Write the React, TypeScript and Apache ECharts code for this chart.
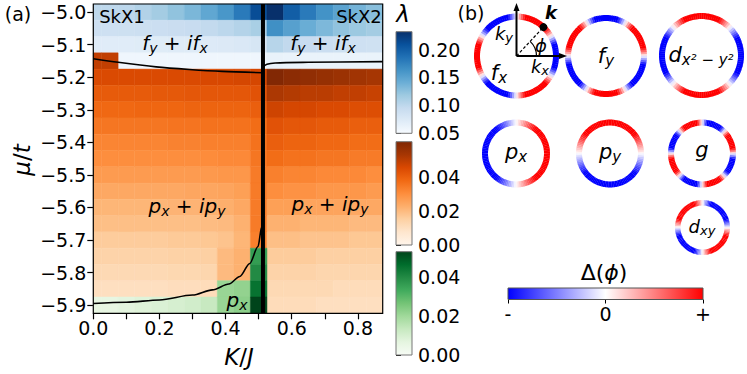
import React, { useEffect, useRef } from "react";
import * as echarts from "echarts";

const FONT = "DejaVu Sans";

// ---------------- data ----------------
const kValues = [0, 0.05, 0.1, 0.15, 0.2, 0.25, 0.3, 0.35, 0.4, 0.45, 0.5, 0.55, 0.6, 0.65, 0.7, 0.75, 0.8, 0.85];
const N = null;

const muBlue = [-5.0, -5.05, -5.1, -5.15];
const lambdaBlue: (number | null)[][] = [
  [0.100, 0.100, 0.101, 0.107, 0.115, 0.124, 0.134, 0.147, 0.160, 0.180, 0.212, 0.232, 0.200, 0.180, 0.163, 0.150, 0.137, 0.128],
  [0.088, 0.088, 0.089, 0.090, 0.091, 0.092, 0.094, 0.097, 0.101, 0.106, 0.112, 0.165, 0.152, 0.142, 0.133, 0.124, 0.119, 0.115],
  [0.071, 0.071, 0.071, 0.072, 0.072, 0.073, 0.073, 0.074, 0.075, 0.077, 0.080, 0.104, 0.098, 0.094, 0.091, 0.089, 0.088, 0.087],
  [N, N, 0.057, 0.057, 0.057, 0.057, 0.057, 0.057, 0.057, 0.057, 0.057, 0.063, 0.062, 0.062, 0.062, 0.062, 0.062, 0.062],
];

const muOrange = [-5.15, -5.2, -5.25, -5.3, -5.35, -5.4, -5.45, -5.5, -5.55, -5.6, -5.65, -5.7, -5.75, -5.8, -5.85, -5.9];
const lambdaOrange: (number | null)[][] = [
  [0.049, 0.049, N, N, N, N, N, N, N, N, N, N, N, N, N, N, N, N],
  [0.045, 0.045, 0.045, 0.045, 0.045, 0.045, 0.045, 0.0455, 0.0455, 0.046, 0.046, 0.060, 0.058, 0.057, 0.056, 0.055, 0.054, 0.053],
  [0.041, 0.041, 0.041, 0.041, 0.0415, 0.0415, 0.042, 0.042, 0.042, 0.042, 0.043, 0.052, 0.051, 0.050, 0.050, 0.049, 0.049, 0.048],
  [0.038, 0.038, 0.038, 0.0385, 0.0385, 0.0385, 0.039, 0.039, 0.039, 0.039, 0.040, 0.047, 0.046, 0.046, 0.045, 0.045, 0.044, 0.044],
  [0.035, 0.035, 0.035, 0.035, 0.035, 0.0355, 0.0355, 0.036, 0.036, 0.036, 0.037, 0.043, 0.042, 0.042, 0.041, 0.041, 0.040, 0.040],
  [0.032, 0.032, 0.032, 0.032, 0.032, 0.0325, 0.0325, 0.033, 0.033, 0.033, 0.036, 0.040, 0.039, 0.039, 0.038, 0.038, 0.037, 0.037],
  [0.030, 0.030, 0.030, 0.030, 0.030, 0.030, 0.030, 0.0305, 0.031, 0.031, 0.035, 0.037, 0.036, 0.036, 0.035, 0.035, 0.034, 0.034],
  [0.027, 0.027, 0.027, 0.027, 0.027, 0.027, 0.027, 0.0275, 0.028, 0.028, 0.034, 0.033, 0.032, 0.032, 0.031, 0.031, 0.031, 0.030],
  [0.024, 0.024, 0.024, 0.024, 0.024, 0.024, 0.0245, 0.0245, 0.025, 0.026, 0.034, 0.030, 0.029, 0.029, 0.028, 0.028, 0.028, 0.027],
  [0.021, 0.021, 0.021, 0.021, 0.021, 0.0215, 0.0215, 0.022, 0.0225, 0.024, 0.034, 0.026, 0.026, 0.025, 0.025, 0.025, 0.024, 0.024],
  [0.019, 0.019, 0.019, 0.019, 0.019, 0.019, 0.019, 0.0195, 0.020, 0.022, 0.034, 0.022, 0.022, 0.021, 0.021, 0.021, 0.020, 0.020],
  [0.016, 0.016, 0.016, 0.016, 0.016, 0.0165, 0.0165, 0.017, 0.018, 0.021, 0.033, 0.019, 0.019, 0.018, 0.018, 0.018, 0.017, 0.017],
  [0.014, 0.014, 0.014, 0.014, 0.014, 0.0145, 0.0145, 0.015, 0.020, 0.022, N, 0.016, 0.016, 0.016, 0.015, 0.015, 0.015, 0.015],
  [0.012, 0.012, 0.012, 0.012, 0.012, 0.0125, 0.0125, 0.013, 0.020, 0.022, N, 0.014, 0.014, 0.014, 0.013, 0.013, 0.013, 0.013],
  [0.010, 0.010, 0.010, 0.010, 0.010, 0.0105, 0.0105, 0.011, N, N, N, 0.012, 0.012, 0.012, 0.012, 0.011, 0.011, 0.011],
  [N, N, N, N, N, N, N, N, N, N, N, 0.011, 0.011, 0.011, 0.010, 0.010, 0.010, 0.010],
];

const muGreen = [-5.75, -5.8, -5.85, -5.9];
const lambdaGreen: (number | null)[][] = [
  [N, N, N, N, N, N, N, N, N, N, 0.036, N, N, N, N, N, N, N],
  [N, N, N, N, N, N, N, N, N, N, 0.040, N, N, N, N, N, N, N],
  [N, N, N, N, N, N, N, N, 0.021, 0.022, 0.045, N, N, N, N, N, N, N],
  [0.006, 0.006, 0.007, 0.008, 0.009, 0.010, 0.011, 0.013, 0.021, 0.023, 0.053, N, N, N, N, N, N, N],
];

// phase boundaries
const boundaryTopLeftK = [0, 0.075, 0.19, 0.29, 0.39, 0.513];
const boundaryTopLeftMu = [-5.143, -5.154, -5.168, -5.176, -5.182, -5.186];
const boundaryTopRightK = [0.513, 0.525, 0.55, 0.65, 0.875];
const boundaryTopRightMu = [-5.168, -5.16, -5.156, -5.154, -5.152];
const boundaryBottomK = [0, 0.1, 0.2, 0.3, 0.36, 0.41, 0.443, 0.473, 0.498, 0.509, 0.513];
const boundaryBottomMu = [-5.895, -5.891, -5.884, -5.869, -5.853, -5.835, -5.812, -5.772, -5.72, -5.66, -5.6];
const skxTransitionK = 0.513;

// axes
const kTicks = [0, 0.1, 0.2, 0.3, 0.4, 0.5, 0.6, 0.7, 0.8];
const kLabels = [0, 0.2, 0.4, 0.6, 0.8];
const muTicks = [-5.9, -5.8, -5.7, -5.6, -5.5, -5.4, -5.3, -5.2, -5.1, -5.0];
const blueTicks = [0.05, 0.1, 0.15, 0.2];
const orangeTicks = [0, 0.01, 0.02, 0.03, 0.04, 0.05, 0.06];
const orangeLabels = [0, 0.02, 0.04];
const greenTicks = [0, 0.01, 0.02, 0.03, 0.04, 0.05];
const greenLabels = [0, 0.02, 0.04];

// order-parameter rings: Delta(phi) ~ cos(n*phi - phase)
const ringNames = ["f_x", "f_y", "d_{x2-y2}", "p_x", "p_y", "g", "d_xy"];
const ringHarmonic = [3, 3, 2, 1, 1, 4, 2];
const ringPhase = [Math.PI, Math.PI / 2, Math.PI, 0, Math.PI / 2, Math.PI / 2, -Math.PI / 2];

// ---------------- styles ----------------
const BLUES = ["#f7fbff", "#deebf7", "#c6dbef", "#9ecae1", "#6baed6", "#4292c6", "#2171b5", "#08519c", "#08306b"];
const ORANGES = ["#fff5eb", "#fee6ce", "#fdd0a2", "#fdae6b", "#fd8d3c", "#f16913", "#d94801", "#a63603", "#7f2704"];
const GREENS = ["#f7fcf5", "#e5f5e0", "#c7e9c0", "#a1d99b", "#74c476", "#41ab5d", "#238b45", "#006d2c", "#00441b"];

const ringLayout = [
  { cx: 516.5, cy: 56, R: 42.5, w: 6 },
  { cx: 606, cy: 56, R: 41, w: 6 },
  { cx: 701.5, cy: 55.5, R: 42.5, w: 6 },
  { cx: 516, cy: 153.5, R: 34, w: 6 },
  { cx: 610, cy: 153.5, R: 34, w: 6 },
  { cx: 702, cy: 153.5, R: 34, w: 6 },
  { cx: 702.5, cy: 227.5, R: 27.5, w: 5.5 },
];

function toCells(mus: number[], rows: (number | null)[][]) {
  const out: number[][] = [];
  rows.forEach((row, i) =>
    row.forEach((v, j) => {
      if (v !== null) out.push([kValues[j], mus[i], v]);
    })
  );
  return out;
}

function zip(a: number[], b: number[]) {
  return a.map((v, i) => [v, b[i]]);
}

function vGrad(colors: string[]) {
  return new echarts.graphic.LinearGradient(
    0, 1, 0, 0,
    colors.map((c, i) => ({ offset: i / (colors.length - 1), color: c }))
  );
}

function bwr(t: number) {
  const v = Math.max(-1, Math.min(1, t));
  if (v < 0) {
    const c = Math.round(255 * (1 + v));
    return `rgb(${c},${c},255)`;
  }
  const c = Math.round(255 * (1 - v));
  return `rgb(255,${c},${c})`;
}

const renderCell = (params: any, api: any) => {
  const x = api.value(0);
  const y = api.value(1);
  const p1 = api.coord([x - 0.025, y + 0.025]);
  const p2 = api.coord([x + 0.025, y - 0.025]);
  const cs = params.coordSys;
  const rect = echarts.graphic.clipRectByRect(
    { x: p1[0], y: p1[1], width: p2[0] - p1[0], height: p2[1] - p1[1] },
    { x: cs.x, y: cs.y, width: cs.width, height: cs.height }
  );
  if (!rect) return;
  const c = api.visual("color");
  return { type: "rect", shape: rect, style: { fill: c, stroke: c, lineWidth: 0.5 } };
};

function mathRich(size: number) {
  return {
    i: { fontFamily: FONT, fontStyle: "italic", fontSize: size, lineHeight: size + 4, fill: "#000" },
    n: { fontFamily: FONT, fontSize: size, lineHeight: size + 4, fill: "#000" },
    b: { fontFamily: FONT, fontStyle: "italic", fontWeight: "bold", fontSize: size, lineHeight: size + 4, fill: "#000" },
    s: { fontFamily: FONT, fontStyle: "italic", fontSize: Math.round(size * 0.7), lineHeight: Math.round(size * 0.5), verticalAlign: "bottom", fill: "#000" },
    sn: { fontFamily: FONT, fontSize: Math.round(size * 0.7), lineHeight: Math.round(size * 0.5), verticalAlign: "bottom", fill: "#000" },
  };
}

function mtext(x: number, y: number, text: string, size: number, extra: any = {}) {
  return {
    type: "text",
    x,
    y,
    z: 100,
    ...extra,
    style: { text, rich: mathRich(size), align: "center", verticalAlign: "middle", fill: "#000" },
  };
}

function ptext(x: number, y: number, text: string, size: number, extra: any = {}) {
  return {
    type: "text",
    x,
    y,
    z: 100,
    ...extra,
    style: { text, fontFamily: FONT, fontSize: size, align: "center", verticalAlign: "middle", fill: "#000", ...(extra.style || {}) },
  };
}

function ringElements() {
  const els: any[] = [];
  const SEG = 120;
  ringLayout.forEach((L, r) => {
    for (let s = 0; s < SEG; s++) {
      const a0 = (2 * Math.PI * s) / SEG;
      const a1 = (2 * Math.PI * (s + 1)) / SEG;
      const mid = (a0 + a1) / 2;
      const f = Math.cos(ringHarmonic[r] * mid - ringPhase[r]);
      els.push({
        type: "sector",
        silent: true,
        shape: {
          cx: L.cx,
          cy: L.cy,
          r0: L.R - L.w,
          r: L.R,
          startAngle: -a1 - 0.004,
          endAngle: -a0 + 0.004,
          clockwise: true,
        },
        style: { fill: bwr(1.6 * f) },
      });
    }
  });
  return els;
}

export default function App() {
  const ref = useRef<HTMLDivElement>(null);
  useEffect(() => {
    document.body.style.margin = "0";
    if (!ref.current) return;
    const chart = echarts.init(ref.current, null, { renderer: "svg" });

    const axisLabelStyle = { fontFamily: FONT, fontSize: 19, color: "#000" };
    const cbY = (gi: number, min: number, max: number, ticks: number[], labels: number[]) => ({
      gridIndex: gi,
      type: "value",
      position: "right",
      min,
      max,
      axisLine: { show: false },
      splitLine: { show: false },
      axisTick: { show: true, customValues: ticks, length: 5, lineStyle: { color: "#000", width: 1 } },
      axisLabel: { ...axisLabelStyle, customValues: labels, margin: 6, formatter: (v: number) => v.toFixed(2) },
    });
    const hiddenX = (gi: number) => ({ gridIndex: gi, type: "value", show: false, min: 0, max: 1 });

    const o1 = ringLayout[0];
    const phiK = (47 * Math.PI) / 180;
    const dotX = o1.cx + (o1.R - o1.w / 2) * Math.cos(phiK);
    const dotY = o1.cy - (o1.R - o1.w / 2) * Math.sin(phiK);

    const option: any = {
      animation: false,
      backgroundColor: "#ffffff",
      grid: [
        { left: 93.3, top: 4, width: 289.4, height: 309.3, show: true, z: 5, backgroundColor: "transparent", borderColor: "#000", borderWidth: 1.2 },
        { left: 396, top: 31.7, width: 16, height: 101.6, show: true, z: 5, backgroundColor: vGrad(BLUES), borderColor: "#777", borderWidth: 1 },
        { left: 396, top: 141.7, width: 16, height: 103.3, show: true, z: 5, backgroundColor: vGrad(ORANGES), borderColor: "#777", borderWidth: 1 },
        { left: 396, top: 251.7, width: 16, height: 103.3, show: true, z: 5, backgroundColor: vGrad(GREENS), borderColor: "#777", borderWidth: 1 },
        {
          left: 508, top: 288, width: 195, height: 11.5, show: true, z: 5,
          backgroundColor: new echarts.graphic.LinearGradient(0, 0, 1, 0, [
            { offset: 0, color: "#0000ff" },
            { offset: 0.5, color: "#ffffff" },
            { offset: 1, color: "#ff0000" },
          ]),
          borderColor: "#555", borderWidth: 1,
        },
      ],
      xAxis: [
        {
          gridIndex: 0, type: "value", min: 0, max: 0.875,
          axisLine: { show: false }, splitLine: { show: false },
          axisTick: { show: true, customValues: kTicks, length: 6, lineStyle: { color: "#000", width: 1.2 } },
          axisLabel: { ...axisLabelStyle, customValues: kLabels, margin: 5, formatter: (v: number) => v.toFixed(1) },
        },
        hiddenX(1),
        hiddenX(2),
        hiddenX(3),
        {
          gridIndex: 4, type: "value", min: -1, max: 1,
          axisLine: { show: false }, splitLine: { show: false },
          axisTick: { show: true, customValues: [-1, 0, 1], length: 4, lineStyle: { color: "#000", width: 1 } },
          axisLabel: { ...axisLabelStyle, customValues: [-1, 0, 1], margin: 5, formatter: (v: number) => (v < 0 ? "-" : v > 0 ? "+" : "0") },
        },
      ],
      yAxis: [
        {
          gridIndex: 0, type: "value", min: -5.925, max: -4.975,
          axisLine: { show: false }, splitLine: { show: false },
          axisTick: { show: true, customValues: muTicks, length: 6, lineStyle: { color: "#000", width: 1.2 } },
          axisLabel: { ...axisLabelStyle, customValues: muTicks, margin: 7, formatter: (v: number) => (v < 0 ? "\u2212" : "") + Math.abs(v).toFixed(1) },
        },
        cbY(1, 0.05, 0.232, blueTicks, blueTicks),
        cbY(2, 0, 0.0605, orangeTicks, orangeLabels),
        cbY(3, 0, 0.053, greenTicks, greenLabels),
        { gridIndex: 4, type: "value", show: false, min: 0, max: 1 },
      ],
      visualMap: [
        { type: "continuous", show: false, seriesIndex: 0, dimension: 2, min: 0.05, max: 0.232, inRange: { color: BLUES } },
        { type: "continuous", show: false, seriesIndex: 1, dimension: 2, min: 0, max: 0.0605, inRange: { color: ORANGES } },
        { type: "continuous", show: false, seriesIndex: 2, dimension: 2, min: 0, max: 0.053, inRange: { color: GREENS } },
      ],
      series: [
        { type: "custom", name: "SkX blue", xAxisIndex: 0, yAxisIndex: 0, renderItem: renderCell, data: toCells(muBlue, lambdaBlue), encode: { x: 0, y: 1 }, z: 1, silent: true },
        { type: "custom", name: "orange", xAxisIndex: 0, yAxisIndex: 0, renderItem: renderCell, data: toCells(muOrange, lambdaOrange), encode: { x: 0, y: 1 }, z: 1, silent: true },
        { type: "custom", name: "green", xAxisIndex: 0, yAxisIndex: 0, renderItem: renderCell, data: toCells(muGreen, lambdaGreen), encode: { x: 0, y: 1 }, z: 1, silent: true },
        { type: "line", xAxisIndex: 0, yAxisIndex: 0, data: zip(boundaryTopLeftK, boundaryTopLeftMu), smooth: 0.3, symbol: "none", lineStyle: { color: "#000", width: 1.6 }, z: 3, silent: true },
        { type: "line", xAxisIndex: 0, yAxisIndex: 0, data: zip(boundaryTopRightK, boundaryTopRightMu), smooth: 0.3, symbol: "none", lineStyle: { color: "#000", width: 1.6 }, z: 3, silent: true },
        { type: "line", xAxisIndex: 0, yAxisIndex: 0, data: zip(boundaryBottomK, boundaryBottomMu), smooth: 0.3, smoothMonotone: "x", symbol: "none", lineStyle: { color: "#000", width: 1.6 }, z: 3, silent: true },
        { type: "line", xAxisIndex: 0, yAxisIndex: 0, data: [[skxTransitionK, -4.975], [skxTransitionK, -5.925]], symbol: "none", lineStyle: { color: "#000", width: 4 }, z: 4, silent: true },
      ],
      graphic: {
        elements: [
          ptext(18, 14, "(a)", 19),
          ptext(471, 13, "(b)", 19),
          ptext(122, 16, "SkX1", 18),
          ptext(359, 16, "SkX2", 18),
          mtext(403, 14, "{i|λ}", 23),
          mtext(175, 43, "{i|f}{s|y}{n| + }{i|if}{s|x}", 20),
          mtext(323, 43, "{i|f}{s|y}{n| + }{i|if}{s|x}", 20),
          mtext(187, 206, "{i|p}{s|x}{n| + }{i|ip}{s|y}", 20),
          mtext(330, 204, "{i|p}{s|x}{n| + }{i|ip}{s|y}", 20),
          mtext(237, 300, "{i|p}{s|x}", 20),
          mtext(22, 160, "{i|μ}{n|/}{i|t}", 23, { rotation: Math.PI / 2 }),
          mtext(239, 357, "{i|K}{n|/}{i|J}", 23),
          ...ringElements(),
          // axes inside ring 1
          { type: "line", z: 50, shape: { x1: o1.cx, y1: o1.cy, x2: o1.cx, y2: 10 }, style: { stroke: "#000", lineWidth: 2 } },
          { type: "polygon", z: 50, shape: { points: [[o1.cx, 3], [o1.cx - 3, 11], [o1.cx + 3, 11]] }, style: { fill: "#000" } },
          { type: "line", z: 50, shape: { x1: o1.cx, y1: o1.cy, x2: 560, y2: o1.cy }, style: { stroke: "#000", lineWidth: 2 } },
          { type: "polygon", z: 50, shape: { points: [[567, o1.cy], [559, o1.cy - 3], [559, o1.cy + 3]] }, style: { fill: "#000" } },
          { type: "line", z: 50, shape: { x1: o1.cx, y1: o1.cy, x2: dotX, y2: dotY }, style: { stroke: "#000", lineWidth: 1.2, lineDash: [3, 2] } },
          { type: "circle", z: 51, shape: { cx: dotX, cy: dotY, r: 4 }, style: { fill: "#000" } },
          { type: "arc", z: 50, shape: { cx: o1.cx, cy: o1.cy, r: 20, startAngle: -phiK, endAngle: 0, clockwise: true }, style: { stroke: "#000", lineWidth: 1.2, fill: "none" } },
          mtext(551, 12, "{b|k}", 18),
          mtext(541, 45, "{i|ϕ}", 18),
          mtext(504, 33, "{i|k}{s|y}", 18),
          mtext(540, 66, "{i|k}{s|x}", 18),
          mtext(499, 73, "{i|f}{s|x}", 21),
          mtext(606, 56, "{i|f}{s|y}", 21),
          mtext(701, 55, "{i|d}{s|x² − y²}", 21),
          mtext(516, 152, "{i|p}{s|x}", 21),
          mtext(610, 152, "{i|p}{s|y}", 21),
          mtext(702, 150, "{i|g}", 21),
          mtext(702, 226, "{i|d}{s|xy}", 18),
          mtext(604, 272, "{n|Δ(}{i|ϕ}{n|)}", 22),
        ],
      },
    };
    chart.setOption(option);
    return () => chart.dispose();
  }, []);
  return <div ref={ref} style={{ position: "fixed", left: 0, top: 0, width: 747, height: 374 }} />;
}
